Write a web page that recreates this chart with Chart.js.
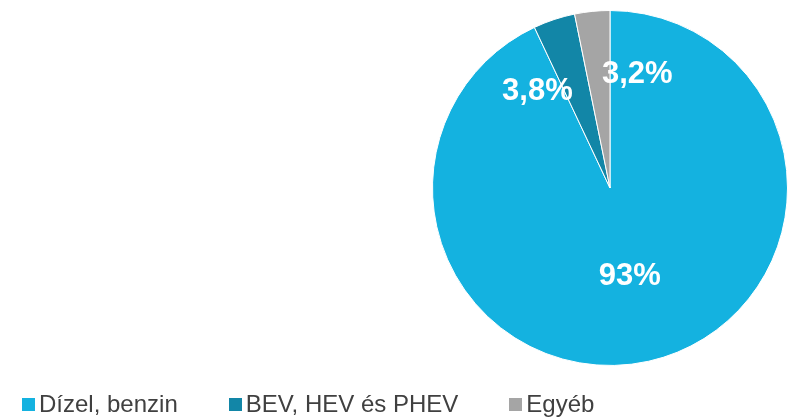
<!DOCTYPE html>
<html>
<head>
<meta charset="utf-8">
<script src="https://cdn.jsdelivr.net/npm/chart.js@4"></script>
<style>
  html, body { margin: 0; padding: 0; background: #ffffff; }
  #wrap { position: relative; width: 790px; height: 417px; overflow: hidden; }
  #c { position: absolute; left: 0; top: 0; }
  #legend { position: absolute; left: 22px; top: 392px; display: flex; align-items: flex-start;
            font-family: "Liberation Sans", Arial, sans-serif; font-size: 24px; line-height: 1; color: #404040; white-space: nowrap; }
  .item { display: flex; align-items: flex-start; margin-right: 51px; }
  .box { width: 13px; height: 13px; margin-top: 6px; margin-right: 4px; }
</style>
</head>
<body>
<div id="wrap">
  <canvas id="c" width="790" height="417"></canvas>
  <div id="legend"></div>
</div>
<script>
const categories = ["Dízel, benzin", "BEV, HEV és PHEV", "Egyéb"];
const shares = [93, 3.8, 3.2];
const shareLabels = ["93%", "3,8%", "3,2%"];
const colors = ["#14B2E0", "#1286A7", "#A5A5A5"];

// label placement (angle shift in degrees, radius fraction) per slice
const labelPlacement = [
  { shift: 0, frac: 0.51 },
  { shift: -18.6, frac: 0.68 },
  { shift: 19.2, frac: 0.66 }
];

const labelPlugin = {
  id: 'sliceLabels',
  afterDatasetsDraw(chart) {
    const ctx = chart.ctx;
    const meta = chart.getDatasetMeta(0);
    ctx.save();
    ctx.font = 'bold 31px "Liberation Sans", Arial, sans-serif';
    ctx.fillStyle = '#ffffff';
    ctx.textAlign = 'center';
    ctx.textBaseline = 'middle';
    meta.data.forEach((arc, i) => {
      const p = arc.getProps(['x', 'y', 'startAngle', 'endAngle', 'outerRadius'], true);
      const mid = (p.startAngle + p.endAngle) / 2 + labelPlacement[i].shift * Math.PI / 180;
      const r = p.outerRadius * labelPlacement[i].frac;
      ctx.fillText(shareLabels[i], p.x + Math.cos(mid) * r, p.y + Math.sin(mid) * r);
    });
    ctx.restore();
  }
};

new Chart(document.getElementById('c'), {
  type: 'pie',
  data: {
    labels: categories,
    datasets: [{
      data: shares,
      backgroundColor: colors,
      borderColor: '#ffffff',
      borderWidth: 1
    }]
  },
  options: {
    responsive: false,
    animation: false,
    layout: { padding: { left: 432, right: 2, top: 10, bottom: 51 } },
    plugins: {
      legend: { display: false },
      tooltip: { enabled: false }
    }
  },
  plugins: [labelPlugin]
});

const legend = document.getElementById('legend');
categories.forEach((name, i) => {
  const item = document.createElement('div');
  item.className = 'item';
  const box = document.createElement('div');
  box.className = 'box';
  box.style.background = colors[i];
  const txt = document.createElement('span');
  txt.textContent = name;
  item.appendChild(box);
  item.appendChild(txt);
  legend.appendChild(item);
});
</script>
</body>
</html>
